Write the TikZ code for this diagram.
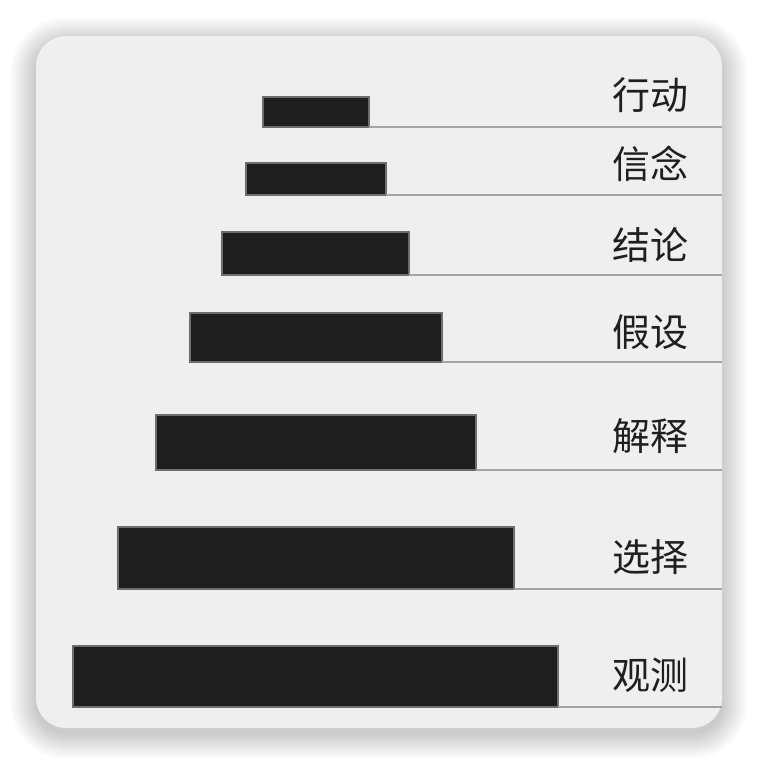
\documentclass[tikz,border=0pt]{standalone}
\usepackage{fontspec}
\newfontfamily\cjk{Noto Sans CJK SC}
\definecolor{panelbg}{HTML}{EFEFEF}
\definecolor{barfill}{HTML}{1E1E1E}
\definecolor{barline}{HTML}{6E6E6E}
\definecolor{rulegray}{HTML}{A4A4A4}
\tikzset{
  panel/.style={fill=panelbg, draw=none, rounded corners=30pt},
  shadowlayer/.style={fill=black, opacity=0.0062},
  barbox/.style={fill=barfill, draw=barline, line width=1.1pt, inner sep=0pt, outer sep=0pt},
  rulebar/.style={draw=rulegray, line width=1.8pt},
  lab/.style={font=\cjk\fontsize{38}{40}\selectfont, text=black!88, inner sep=0pt, anchor=base west},
}
\begin{document}
\begin{tikzpicture}[x=1pt,y=-1pt]
\useasboundingbox[fill=white] (0,0) rectangle (758,764);
\foreach \i in {1,...,26}{
  \path[shadowlayer, rounded corners={(30+\i)*1pt}] ({36-\i},{36-\i+7}) rectangle ({722+\i},{728+\i+5});
}
\path[panel] (36,36) rectangle (722,728);
% bars: left, top, right, bottom
\foreach \n/\l/\t/\r/\b/\ib/\txt in {
  1/263/97/369/127/112/行动,
  2/246/163/386/195/181/信念,
  3/222/232/409/275/262/结论,
  4/190/313/442/362/349/假设,
  5/156/415/476/470/453/解释,
  6/118/527/514/589/574/选择,
  7/73/646/558/707/692/观测}{
  \node[barbox, minimum width={(\r-\l)*1pt}, minimum height={(\b-\t)*1pt}] (b\n) at ({(\l+\r)/2},{(\t+\b)/2}) {};
  \coordinate (e\n) at (722,\b);
  \draw[rulebar] (b\n.south east) -- (e\n);
  \node[lab] (l\n) at (612,\ib-3) {\txt};
}
\end{tikzpicture}
\end{document}
